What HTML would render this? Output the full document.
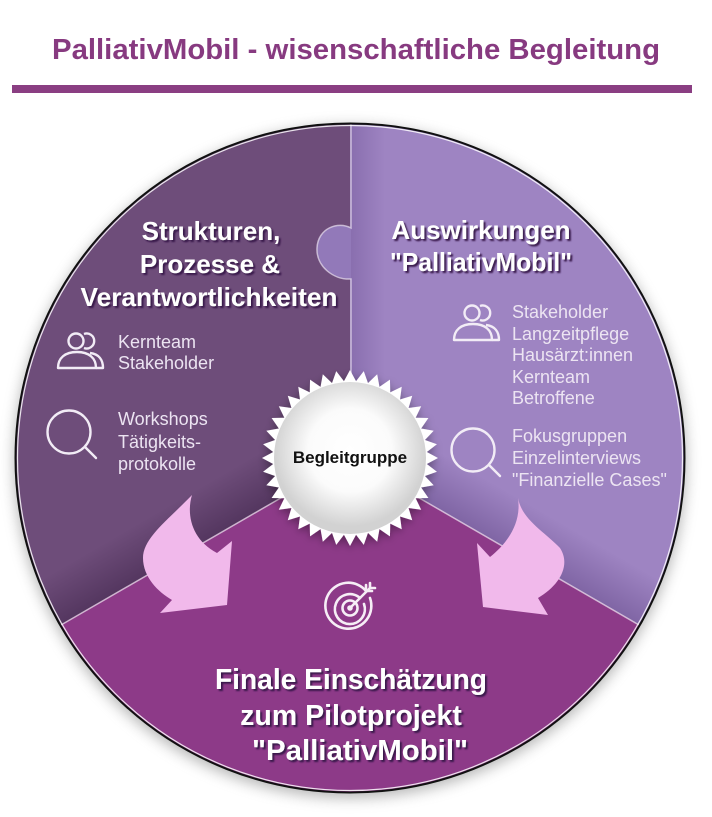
<!DOCTYPE html>
<html>
<head>
<meta charset="utf-8">
<style>
  html,body{margin:0;padding:0;background:#fff;}
  body{width:712px;height:817px;overflow:hidden;}
  svg{display:block;}
  .h{font-family:"Liberation Sans",Arial,sans-serif;font-weight:bold;fill:#fff;}
  .s{font-family:"Liberation Sans",Arial,sans-serif;fill:#ece4f2;font-size:18px;}
</style>
</head>
<body>
<svg width="712" height="817" viewBox="0 0 712 817" xmlns="http://www.w3.org/2000/svg">
  <defs>
    <filter id="cshadow" x="-20%" y="-20%" width="140%" height="140%">
      <feGaussianBlur stdDeviation="7"/>
    </filter>
    <filter id="tshadow" x="-10%" y="-30%" width="120%" height="160%">
      <feDropShadow dx="2" dy="2" stdDeviation="0.7" flood-color="#34164a" flood-opacity="0.95"/>
    </filter>
    <filter id="sealshadow" x="-30%" y="-30%" width="160%" height="160%">
      <feDropShadow dx="0" dy="3" stdDeviation="4" flood-color="#000" flood-opacity="0.35"/>
    </filter>
    <radialGradient id="sealg" cx="50%" cy="45%" r="50%">
      <stop offset="0" stop-color="#ffffff"/>
      <stop offset="0.55" stop-color="#fbfbfb"/>
      <stop offset="1" stop-color="#d2d2d2"/>
    </radialGradient>
    <linearGradient id="lshade" gradientUnits="userSpaceOnUse" x1="205" y1="542" x2="180" y2="499">
      <stop offset="0" stop-color="#3e2349" stop-opacity="0.55"/>
      <stop offset="1" stop-color="#3e2349" stop-opacity="0"/>
    </linearGradient>
    <linearGradient id="rshade" gradientUnits="userSpaceOnUse" x1="495" y1="542" x2="520" y2="499">
      <stop offset="0" stop-color="#5a3f80" stop-opacity="0.45"/>
      <stop offset="1" stop-color="#5a3f80" stop-opacity="0"/>
    </linearGradient>
    <linearGradient id="vshade" gradientUnits="userSpaceOnUse" x1="350" y1="0" x2="385" y2="0">
      <stop offset="0" stop-color="#6f5396" stop-opacity="0.45"/>
      <stop offset="1" stop-color="#6f5396" stop-opacity="0"/>
    </linearGradient>
    <clipPath id="lclip"><path d="M350,458 L350,124 A334,334 0 0 0 60.75,625 Z"/></clipPath>
    <clipPath id="rclip"><path d="M350,458 L639.25,625 A334,334 0 0 0 350,124 Z"/></clipPath>
  </defs>

  <!-- Title -->
  <text x="52" y="59" textLength="608" lengthAdjust="spacingAndGlyphs" font-family="Liberation Sans, Arial, sans-serif" font-weight="bold" font-size="29" fill="#873a80">PalliativMobil - wisenschaftliche Begleitung</text>
  <rect x="12" y="85" width="680" height="8" fill="#8a3e82"/>

  <!-- circle shadow -->
  <circle cx="350" cy="462" r="336" fill="#7a7a7a" opacity="0.55" filter="url(#cshadow)"/>

  <!-- segments -->
  <path d="M350,458 L350,124 A334,334 0 0 0 60.75,625 Z" fill="#6e4d7a"/>
  <path d="M350,458 L639.25,625 A334,334 0 0 0 350,124 Z" fill="#9e84c2"/>
  <rect x="0" y="0" width="712" height="817" fill="url(#lshade)" clip-path="url(#lclip)"/>
  <rect x="0" y="0" width="712" height="817" fill="url(#rshade)" clip-path="url(#rclip)"/>
  <rect x="350" y="120" width="40" height="360" fill="url(#vshade)" clip-path="url(#rclip)"/>
  <path d="M350,458 L60.75,625 A334,334 0 0 0 639.25,625 Z" fill="#8d3a88"/>

  <!-- puzzle knob -->
  <path d="M351,228 C338,221 318,228 317,248 C316,266 333,280 351,279 Z" fill="#9279b9"/>
  <path d="M351,124 L351,228 C338,221 318,228 317,248 C316,266 333,280 351,279 L351,380" fill="none" stroke="#e9dff0" stroke-opacity="0.7" stroke-width="1.5"/>

  <!-- divider lines -->
  <line x1="350" y1="458" x2="61" y2="625" stroke="#f2e6f2" stroke-opacity="0.7" stroke-width="1.5"/>
  <line x1="350" y1="458" x2="639" y2="625" stroke="#f2e6f2" stroke-opacity="0.7" stroke-width="1.5"/>

  <!-- outline -->
  <circle cx="350" cy="458" r="332.5" fill="none" stroke="#ffffff" stroke-opacity="0.85" stroke-width="1.2"/>
  <circle cx="350" cy="458" r="334.5" fill="none" stroke="#111" stroke-width="2"/>

  <!-- arrows -->
  <path d="M192,495 C186,515 192,540 217,553 L232,541 L227,605 L160,613 L172,600 C158,592 143,577 143,558 C143,538 168,520 192,495 Z" fill="#f1b9eb"/>
  <path d="M518,498 C522,520 545,532 560,548 C571,565 560,585 538,598 L548,615 L483,607 L477,543 L490,557 C505,545 522,525 518,498 Z" fill="#f1b9eb"/>

  <!-- seal -->
  <g filter="url(#sealshadow)">
    <polygon id="star" fill="#ffffff" points=""/>
  </g>
  <circle cx="350" cy="458" r="76" fill="url(#sealg)"/>
  <text x="350" y="463" text-anchor="middle" font-family="Liberation Sans, Arial, sans-serif" font-weight="bold" font-size="17" fill="#111">Begleitgruppe</text>

  <!-- Left heading -->
  <g class="h" font-size="26" text-anchor="middle" filter="url(#tshadow)">
    <text x="211" y="240">Strukturen,</text>
    <text x="210" y="273">Prozesse &amp;</text>
    <text x="209" y="306" textLength="257" lengthAdjust="spacingAndGlyphs">Verantwortlichkeiten</text>
  </g>
  <!-- Right heading -->
  <g class="h" font-size="26" text-anchor="middle" filter="url(#tshadow)">
    <text x="481" y="239">Auswirkungen</text>
    <text x="481" y="271" textLength="182" lengthAdjust="spacingAndGlyphs">"PalliativMobil"</text>
  </g>

  <!-- Left lists -->
  <g class="s">
    <text x="118" y="348">Kernteam</text>
    <text x="118" y="369">Stakeholder</text>
    <text x="118" y="425">Workshops</text>
    <text x="118" y="448">Tätigkeits-</text>
    <text x="118" y="470">protokolle</text>
  </g>
  <!-- Right lists -->
  <g class="s">
    <text x="512" y="318">Stakeholder</text>
    <text x="512" y="340">Langzeitpflege</text>
    <text x="512" y="361">Hausärzt:innen</text>
    <text x="512" y="383">Kernteam</text>
    <text x="512" y="404">Betroffene</text>
    <text x="512" y="442">Fokusgruppen</text>
    <text x="512" y="464">Einzelinterviews</text>
    <text x="512" y="486">"Finanzielle Cases"</text>
  </g>

  <!-- People icons -->
  <g fill="none" stroke="#f2ecf6" stroke-width="2.4" stroke-linejoin="round">
    <g id="ppl">
      <path d="M84,334 A7.5,7.5 0 1 1 84,348"/>
      <circle cx="76" cy="341" r="7.5"/>
      <path d="M90,353 C99,354 103,360 103,368 L96,368"/>
      <path d="M58,368 C58,358 65,352 77,352 C89,352 96,358 96,368 Z"/>
    </g>
    <g transform="translate(396,-28)">
      <path d="M84,334 A7.5,7.5 0 1 1 84,348"/>
      <circle cx="76" cy="341" r="7.5"/>
      <path d="M90,353 C99,354 103,360 103,368 L96,368"/>
      <path d="M58,368 C58,358 65,352 77,352 C89,352 96,358 96,368 Z"/>
    </g>
  </g>

  <!-- Magnifiers -->
  <g fill="none" stroke="#f2ecf6" stroke-width="2.4" stroke-linecap="round">
    <circle cx="69" cy="432" r="21.5"/>
    <line x1="85" y1="447" x2="96" y2="458"/>
    <circle cx="473" cy="450" r="21.5"/>
    <line x1="489" y1="465" x2="500" y2="476"/>
  </g>

  <!-- Target icon -->
  <g fill="none" stroke="#f6eef6" stroke-width="2.6" stroke-linecap="round">
    <path d="M366,591 A23,23 0 1 0 370,598"/>
    <path d="M360,598 A15,15 0 1 0 364,604"/>
    <circle cx="350" cy="608" r="7.5"/>
    <line x1="350" y1="608" x2="370" y2="588"/>
    <path d="M366,585 L366,591 L372,591"/>
    <path d="M370,583 L370,588 L375,588"/>
  </g>
  <circle cx="350" cy="608" r="2.8" fill="#f6eef6"/>

  <!-- Bottom heading -->
  <g class="h" font-size="28.5" text-anchor="middle" filter="url(#tshadow)">
    <text x="351" y="689" textLength="272" lengthAdjust="spacingAndGlyphs">Finale Einschätzung</text>
    <text x="351" y="725">zum Pilotprojekt</text>
    <text x="360" y="760" textLength="216" lengthAdjust="spacingAndGlyphs">"PalliativMobil"</text>
  </g>

  <script>
    (function(){
      var cx=350, cy=458, ro=88, ri=77, n=40, pts=[];
      for(var i=0;i<2*n;i++){
        var a=Math.PI*i/n - Math.PI/2;
        var r=(i%2===0)?ro:ri;
        pts.push((cx+r*Math.cos(a)).toFixed(2)+","+(cy+r*Math.sin(a)).toFixed(2));
      }
      document.getElementById("star").setAttribute("points",pts.join(" "));
    })();
  </script>
</svg>
</body>
</html>
